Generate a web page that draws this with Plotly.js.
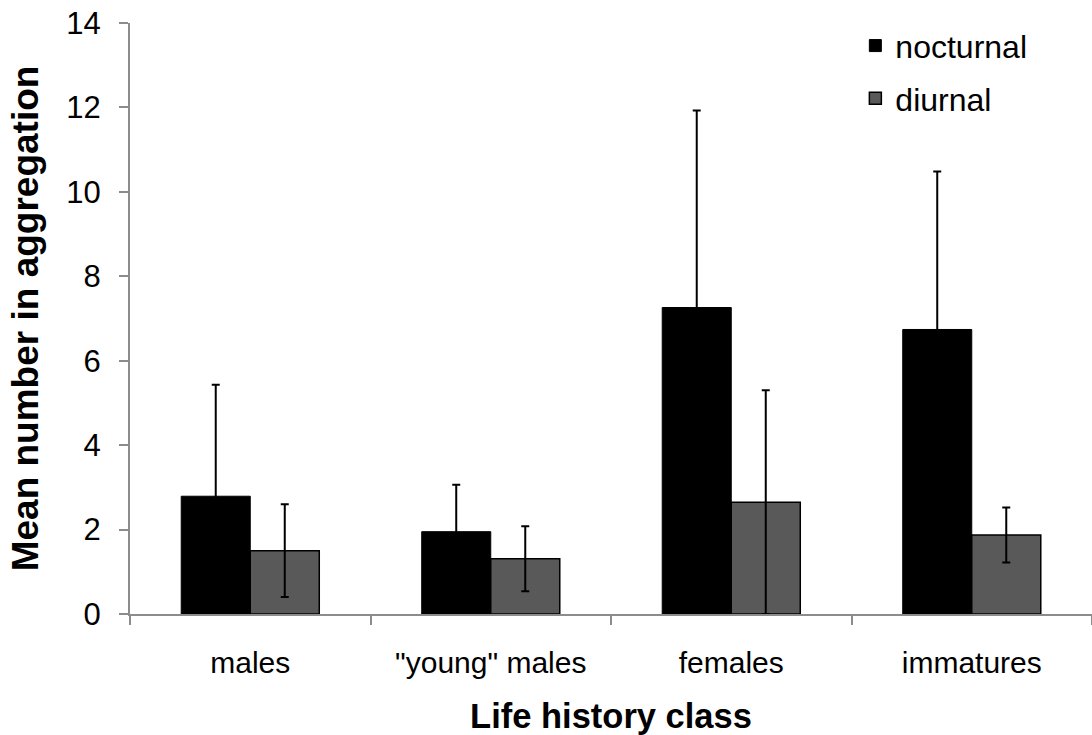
<!DOCTYPE html>
<html>
<head>
<meta charset="utf-8">
<script src="https://cdn.plot.ly/plotly-3.0.1.min.js"></script>
<style>
  html, body { margin: 0; padding: 0; background: #ffffff; }
  #chart { width: 1092px; height: 735px; }
</style>
</head>
<body>
<div id="chart"></div>
<script>
// Life history classes on the category axis
const categories = ['males', '"young" males', 'females', 'immatures'];

// Mean number of individuals per aggregation, with error values
const nocturnalMean = [2.79, 1.95, 7.26, 6.74];
const nocturnalErr  = [2.64, 1.11, 4.67, 3.74];
const diurnalMean   = [1.50, 1.31, 2.65, 1.87];
const diurnalErr    = [1.10, 0.77, 2.65, 0.65];

// Y axis ticks
const yTicks = [0, 2, 4, 6, 8, 10, 12, 14];

const fontFamily = 'Arial, "Liberation Sans", Helvetica, sans-serif';

const nocturnal = {
  type: 'bar',
  name: 'nocturnal',
  x: categories,
  y: nocturnalMean,
  legendgroup: 'n',
  marker: { color: '#000000', line: { color: '#000000', width: 1 } },
  error_y: { type: 'data', array: nocturnalErr, visible: true,
             color: '#000000', thickness: 2, width: 4 }
};

const diurnal = {
  type: 'bar',
  name: 'diurnal',
  x: categories,
  y: diurnalMean,
  legendgroup: 'd',
  marker: { color: '#595959', line: { color: '#000000', width: 1.5 } },
  error_y: { type: 'data', array: diurnalErr, visible: true,
             color: '#000000', thickness: 2, width: 4 }
};

const layout = {
  width: 1092,
  height: 735,
  margin: { l: 130, r: 0, t: 23, b: 121, pad: 0 },
  paper_bgcolor: '#ffffff',
  plot_bgcolor: '#ffffff',
  font: { family: fontFamily, size: 30, color: '#000000' },
  barmode: 'group',
  bargap: 0.426,
  bargroupgap: 0,
  showlegend: true,
  legend: {
    x: 0.754, y: 1.008, xanchor: 'left', yanchor: 'top',
    font: { family: fontFamily, size: 32, color: '#000000' },
    bgcolor: 'rgba(0,0,0,0)',
    tracegroupgap: 8
  },
  xaxis: {
    type: 'category',
    showline: true, linecolor: '#8c8c8c', linewidth: 2,
    ticks: 'outside', tickson: 'boundaries', ticklen: 9, tickwidth: 2, tickcolor: '#8c8c8c',
    showgrid: false, zeroline: false,
    tickfont: { family: fontFamily, size: 30, color: '#000000' },
    ticklabelstandoff: 21,
    title: { text: '<b>Life history class</b>', standoff: 30,
             font: { family: fontFamily, size: 34.5, color: '#000000' } }
  },
  yaxis: {
    range: [0, 14],
    tickvals: yTicks,
    showline: true, linecolor: '#8c8c8c', linewidth: 2,
    ticks: 'outside', ticklen: 9, tickwidth: 2, tickcolor: '#8c8c8c',
    showgrid: false, zeroline: false,
    tickfont: { family: fontFamily, size: 31, color: '#000000' },
    ticklabelstandoff: 12,
    title: { text: '<b>Mean number in aggregation</b>', standoff: 16,
             font: { family: fontFamily, size: 37, color: '#000000' } }
  }
};

Plotly.newPlot('chart', [nocturnal, diurnal], layout, { displayModeBar: false, staticPlot: true });
</script>
</body>
</html>
